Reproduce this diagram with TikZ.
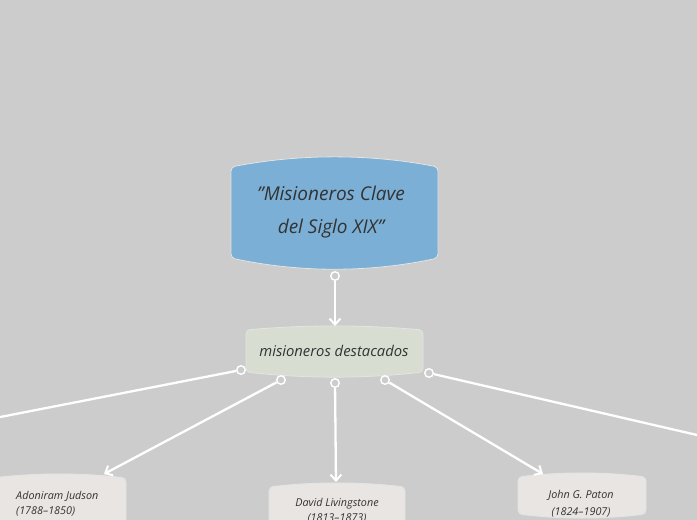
\documentclass[tikz,border=0pt]{standalone}
\usepackage{fontspec}
\setmainfont{Open Sans}
\usetikzlibrary{arrows.meta}
\definecolor{bg}{HTML}{CCCCCC}
\definecolor{topblue}{HTML}{7BAFD5}
\definecolor{subgreen}{HTML}{D7DED1}
\definecolor{leaf}{HTML}{E8E5E3}
\definecolor{ink}{HTML}{333333}
\definecolor{rim}{HTML}{E4E4E4}
\begin{document}
\begin{tikzpicture}[x=1pt,y=-1pt,
  box/.style={draw=rim,line width=.8pt,rounded corners=4pt},
  label/.style={text=ink,font=\itshape,align=center,inner sep=0pt},
  pin/.style={circle,draw=white,fill=bg,line width=1.4pt,minimum size=8.5pt,inner sep=0pt},
  link/.style={white,line width=2.3pt,-{Straight Barb[length=6pt,width=11pt,line width=2pt]}},
  edge/.style={white,line width=2.3pt}]
\fill[bg] (0,0) rectangle (697,520);
\useasboundingbox (0,0) rectangle (697,520);
\clip (0,0) rectangle (697,520);

% shapes
\draw[box,fill=topblue] (231,167) .. controls (300,153.7) and (369,153.7) .. (438,167) -- (438,258) .. controls (369,272.7) and (300,272.7) .. (231,258) -- cycle;
\draw[box,fill=subgreen] (246,330) .. controls (305,324.7) and (364,324.7) .. (423,330) -- (423,372) .. controls (364,378.7) and (305,378.7) .. (246,372) -- cycle;
\draw[box,fill=leaf] (-8,478) .. controls (37,472.7) and (81,472.7) .. (126,478) -- (126,540) -- (-8,540) -- cycle;
\draw[box,fill=leaf] (269,487) .. controls (314,481.7) and (360,481.7) .. (405,487) -- (405,540) -- (269,540) -- cycle;
\draw[box,fill=leaf] (518,477) .. controls (561,471.7) and (603,471.7) .. (646,477) -- (646,514) .. controls (603,519.3) and (561,519.3) .. (518,514) -- cycle;

% texts
\node[label,font=\itshape\fontsize{19}{33}\selectfont] (title) at (331,212) {\symbol{34}Misioneros Clave\\del Siglo XIX\symbol{34}};
\node[label,font=\itshape\fontsize{14.8}{16}\selectfont] (sub) at (334,351) {misioneros destacados};
\node[label,align=left,font=\itshape\fontsize{10.8}{15}\selectfont,anchor=west] (judson) at (16,504) {Adoniram Judson\\(1788–1850)};
\node[label,font=\itshape\fontsize{10.8}{15}\selectfont] (livingstone) at (337,511) {David Livingstone\\(1813–1873)};
\node[label,font=\itshape\fontsize{10.8}{17}\selectfont] (paton) at (581,504) {John G. Paton\\(1824–1907)};

% connectors
\coordinate (subtop) at (335,326);
\coordinate (judsontop) at (104,474);
\coordinate (livingstonetop) at (336,482);
\coordinate (patontop) at (543,474);
\coordinate (offleft) at (-10,419);
\coordinate (offright) at (710,438);

\node[pin] (p0) at (335,276) {};
\node[pin] (p1) at (241,370) {};
\node[pin] (p2) at (281,380) {};
\node[pin] (p3) at (335,383) {};
\node[pin] (p4) at (385,380) {};
\node[pin] (p5) at (429,373) {};

\draw[link] (p0) -- (subtop);
\draw[edge] (p1) -- (offleft);
\draw[link] (p2) -- (judsontop);
\draw[link] (p3) -- (livingstonetop);
\draw[link] (p4) -- (patontop);
\draw[edge] (p5) -- (offright);
\end{tikzpicture}
\end{document}
